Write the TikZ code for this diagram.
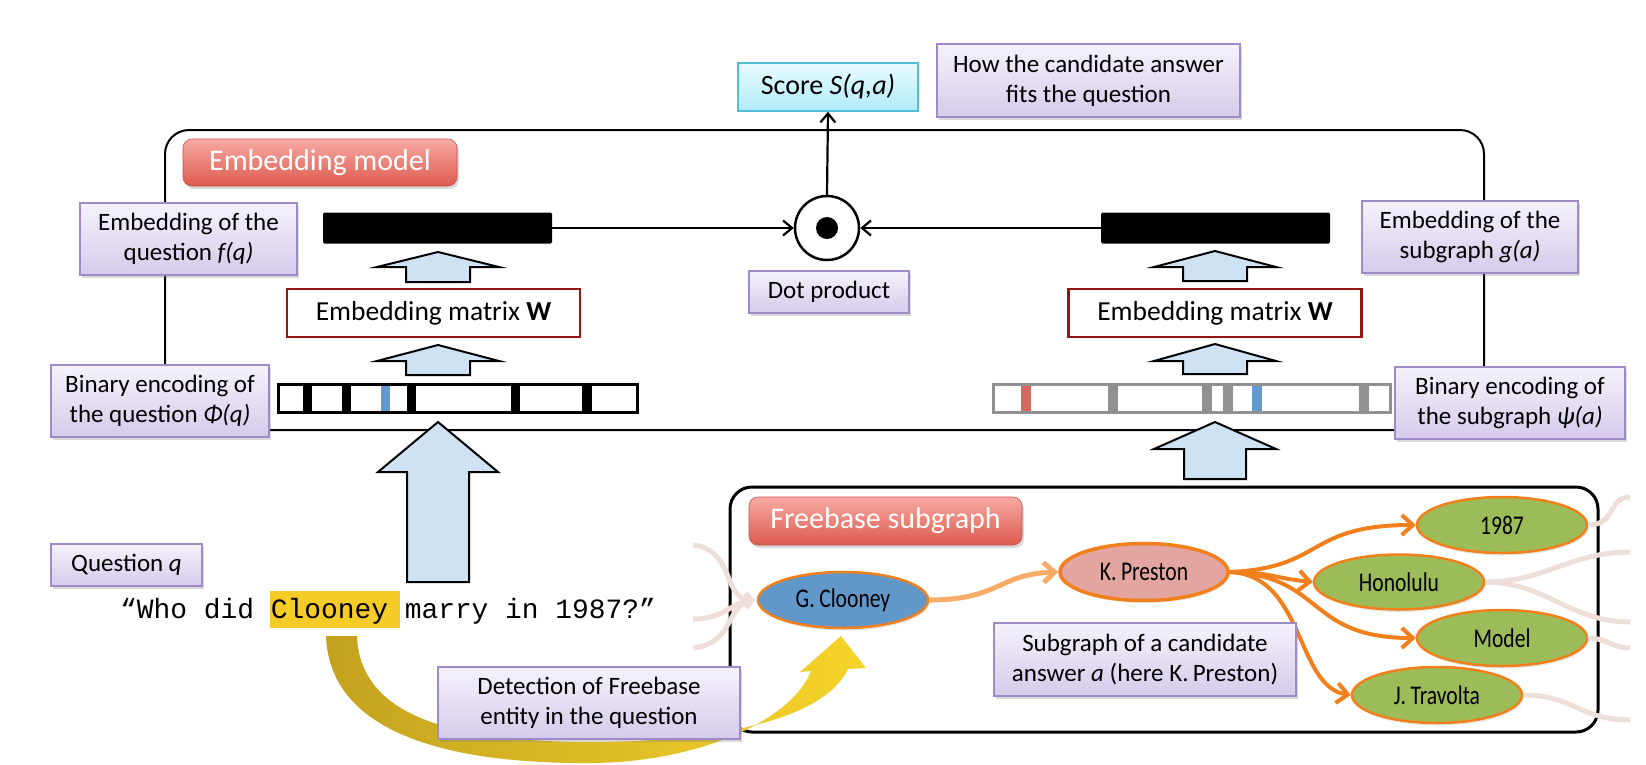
\documentclass[tikz,border=0pt]{standalone}
\usepackage{fontspec}
\setmainfont{Carlito}
\newfontfamily\qmono{Liberation Mono}
\newfontfamily\condf[FakeStretch=0.8]{Carlito}
\usetikzlibrary{arrows.meta,shadows,shapes.geometric}
\definecolor{pborder}{RGB}{158,138,198}
\definecolor{ptop}{RGB}{245,242,251}
\definecolor{pbot}{RGB}{214,202,235}
\definecolor{ctop}{RGB}{232,251,254}
\definecolor{cbot}{RGB}{176,236,249}
\definecolor{cborder}{RGB}{80,190,215}
\definecolor{rtop}{RGB}{248,170,164}
\definecolor{rbot}{RGB}{220,90,78}
\definecolor{wred}{RGB}{150,22,20}
\definecolor{ablue}{RGB}{207,226,243}
\definecolor{sblue}{RGB}{99,153,204}
\definecolor{sred}{RGB}{213,105,96}
\definecolor{sgrey}{RGB}{145,145,145}
\definecolor{eorange}{RGB}{241,128,28}
\definecolor{lorange}{RGB}{247,172,104}
\definecolor{gcblue}{RGB}{97,151,201}
\definecolor{kppink}{RGB}{226,165,159}
\definecolor{egreen}{RGB}{156,187,89}
\definecolor{pinkl}{RGB}{238,222,218}
\definecolor{hlyellow}{RGB}{245,203,40}
\definecolor{ydark}{RGB}{196,162,32}
\definecolor{ylight}{RGB}{247,212,42}
\tikzset{
  pbox/.style={draw=pborder, line width=1.3pt, top color=ptop, bottom color=pbot,
    align=center, inner sep=0pt, font=\fontsize{25}{30}\selectfont,
    drop shadow={shadow xshift=2pt, shadow yshift=-3pt, opacity=0.3}},
  rlabel/.style={top color=rtop, bottom color=rbot, draw=rbot!90!black, line width=0.6pt,
    rounded corners=9pt, text=white, inner sep=0pt, font=\fontsize{30}{34}\selectfont,
    drop shadow={shadow xshift=2pt, shadow yshift=-3pt, opacity=0.3}},
  wbox/.style={draw=wred, line width=2.5pt, fill=white, inner sep=0pt,
    minimum width=293pt, minimum height=48pt, font=\fontsize{27.5}{30}\selectfont},
  ebar/.style={fill=black, inner sep=0pt, minimum width=229pt, minimum height=31pt, rounded corners=1.5pt},
  barrow/.style={fill=ablue, draw=black, line width=2pt, line join=miter},
  conn/.style={line width=2.2pt, -{Straight Barb[length=9pt,width=15pt]}},
  ent/.style={ellipse, draw=eorange, line width=2.5pt, inner sep=0pt,
    minimum width=170pt, minimum height=56pt, font=\fontsize{27}{30}\condf,
    drop shadow={shadow xshift=1.5pt, shadow yshift=-2.5pt, opacity=0.2}},
  oarrow/.style={draw=eorange, line width=4pt, -{Straight Barb[length=11pt,width=20pt]}},
  pinkarrow/.style={draw=pinkl, line width=5pt},
}
\newcommand\blkarrow[6]{%
  \draw[barrow] (#1-#5,#3) -- (#1,#2) -- (#1+#5,#3) -- (#1+#6,#3) -- (#1+#6,#4)
    -- (#1-#6,#4) -- (#1-#6,#3) -- cycle;}
\begin{document}
\begin{tikzpicture}[x=1pt,y=-1pt]
\useasboundingbox (0,0) rectangle (1646,764);

% frames
\node[draw, line width=2pt, rounded corners=24pt, minimum width=1319pt, minimum height=300pt, inner sep=0pt]
  (mainbox) at (824.5,280) {};
\node[draw, line width=3pt, rounded corners=22pt, minimum width=868pt, minimum height=245pt, inner sep=0pt]
  (fbbox) at (1164,609.5) {};

% labels
\node[rlabel, minimum width=274pt, minimum height=47pt] (emlabel) at (320,162.5) {Embedding model};
\node[rlabel, minimum width=273pt, minimum height=48pt] (fblabel) at (885.5,521) {Freebase subgraph};

% score
\node[draw=cborder, line width=1.5pt, top color=ctop, bottom color=cbot, inner sep=0pt,
  minimum width=180pt, minimum height=48pt, font=\fontsize{28}{32}\selectfont]
  (score) at (828,87) {Score \textit{S(q,a)}};

% embeddings and dot product
\node[ebar] (barL) at (437.5,228) {};
\node[ebar] (barR) at (1215.5,228) {};
\node[circle, draw, line width=2.5pt, minimum size=64pt, inner sep=0pt, fill=white] (circ) at (827,228) {};
\fill (circ.center) circle (11pt);
\draw[conn] (barL.east) -- (circ.west);
\draw[conn] (barR.west) -- (circ.east);
\draw[conn] (circ.north) -- (score.south);

% W boxes
\node[wbox] (WL) at (433.5,313) {Embedding matrix \textbf{W}};
\node[wbox] (WR) at (1215,313) {Embedding matrix \textbf{W}};

% small block arrows
\blkarrow{438}{252}{267}{282}{61}{32}
\blkarrow{438}{345}{361}{375}{61}{32}
\blkarrow{1215}{251}{267}{281}{61}{32}
\blkarrow{1215}{344}{361}{374}{61}{32}

% binary encodings
\fill[white] (278,384) rectangle (637,412);
\foreach \a/\b in {303/312,342/351,407/416,511/520,582/592}
  \fill[black] (\a,384) rectangle (\b,412);
\fill[sblue] (381,384) rectangle (390,412);
\draw[line width=3pt] (278,384) rectangle (637,412);

\fill[white] (993,384) rectangle (1390,412);
\foreach \a/\b in {1108/1118,1202/1212,1223/1233,1359/1369}
  \fill[sgrey] (\a,384) rectangle (\b,412);
\fill[sred] (1021,384) rectangle (1031,412);
\fill[sblue] (1252,384) rectangle (1262,412);
\draw[sgrey, line width=3pt] (993,384) rectangle (1390,412);

% big block arrows
\blkarrow{438}{422}{472}{582}{60}{31}
\blkarrow{1215}{422}{449}{479}{61}{31}

% pink context lines
\coordinate (pl1) at (693,545);
\coordinate (pl2) at (693,619);
\coordinate (pl3) at (693,648);
\coordinate (pr1) at (1630,497);
\coordinate (pr2) at (1630,552);
\coordinate (pr3) at (1630,622);
\coordinate (pr4) at (1630,648);
\coordinate (pr5) at (1630,720);

% entities
\node[ent, fill=gcblue] (gc) at (843,600) {G.\,Clooney};
\node[ent, fill=kppink, line width=3.5pt, minimum width=168pt, minimum height=57pt] (kp) at (1144,572) {K.\,Preston};
\node[ent, fill=egreen] (y1987) at (1502,525) {1987};
\node[ent, fill=egreen, minimum height=55pt] (hon) at (1399,582) {Honolulu};
\node[ent, fill=egreen] (model) at (1502,638) {Model};
\node[ent, fill=egreen] (jt) at (1437,695) {J.\,Travolta};

\draw[pinkarrow, -{Straight Barb[length=6pt,width=12pt]}] (pl1) .. controls +(42,5) and +(-32,-2) .. ([xshift=-2pt]gc.west);
\draw[pinkarrow, -{Straight Barb[length=6pt,width=12pt]}] (pl2) .. controls +(30,0) and +(-25,4) .. ([xshift=-2pt]gc.west);
\draw[pinkarrow, -{Straight Barb[length=6pt,width=12pt]}] (pl3) .. controls +(40,-4) and +(-28,6) .. ([xshift=-2pt]gc.west);
\draw[pinkarrow] (y1987.east) .. controls +(28,0) and +(-22,0) .. (pr1);
\draw[pinkarrow] (hon.east) .. controls +(60,0) and +(-60,0) .. (pr2);
\draw[pinkarrow] (hon.east) .. controls +(60,0) and +(-60,0) .. (pr3);
\draw[pinkarrow] (model.east) .. controls +(18,0) and +(-18,0) .. (pr4);
\draw[pinkarrow] (jt.east) .. controls +(50,0) and +(-50,0) .. (pr5);

% relations
\draw[oarrow, draw=lorange, line width=5pt] (gc.east) .. controls +(70,0) and +(-60,2) .. (kp.west);
\draw[oarrow] (kp.east) .. controls +(95,-4) and +(-110,0) .. (y1987.west);
\draw[oarrow] (kp.east) .. controls +(40,0) and +(-40,-4) .. (hon.west);
\draw[oarrow] (kp.east) .. controls +(95,4) and +(-110,0) .. (model.west);
\draw[oarrow] (kp.east) .. controls +(75,3) and +(-55,-8) .. (jt.west);

% question text
\node[fill=hlyellow, inner sep=0pt, minimum width=130pt, minimum height=37pt] (hl) at (335,609.5) {};
\node[anchor=base west, inner sep=0pt, font=\fontsize{27.9}{30}\qmono] (qtext) at (120,618)
  {“Who did Clooney marry in 1987?”};

% yellow detection arrow
\shade[left color=ydark, right color=ylight]
  (326,636) .. controls (330,742) and (470,764) .. (592,763)
  .. controls (700,762) and (792,720) .. (811,671)
  -- (800,672) -- (841,636) -- (866,668) -- (848,669)
  .. controls (822,724) and (700,742) .. (592,742)
  .. controls (462,742) and (360,720) .. (357,636) -- cycle;

% purple annotation boxes
\node[pbox, minimum width=303pt, minimum height=73pt] (how) at (1088.5,80.5) {How the candidate answer\\fits the question};
\node[pbox, minimum width=217pt, minimum height=72pt] (fq) at (188.5,239) {Embedding of the\\question \textit{f(q)}};
\node[pbox, minimum width=216pt, minimum height=72pt] (ga) at (1470,237) {Embedding of the\\subgraph \textit{g(a)}};
\node[pbox, minimum width=160pt, minimum height=42pt] (dot) at (829,292) {Dot product};
\node[pbox, minimum width=218pt, minimum height=72pt] (phiq) at (160,401) {Binary encoding of\\the question \textit{Φ(q)}};
\node[pbox, minimum width=230pt, minimum height=72pt] (psia) at (1510,403) {Binary encoding of\\the subgraph \textit{ψ(a)}};
\node[pbox, minimum width=151pt, minimum height=42pt] (qq) at (126.5,565) {Question \textit{q}};
\node[pbox, minimum width=302pt, minimum height=72pt] (det) at (589,703) {Detection of Freebase\\entity in the question};
\node[pbox, minimum width=302pt, minimum height=73pt] (sub) at (1145,659.5) {Subgraph of a candidate\\answer \textit{a} (here K.\,Preston)};
\end{tikzpicture}
\end{document}
